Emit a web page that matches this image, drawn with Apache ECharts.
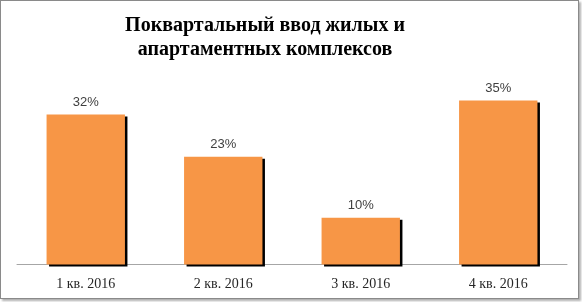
<!DOCTYPE html>
<html><head><meta charset="utf-8">
<script src="https://cdn.jsdelivr.net/npm/echarts@6/dist/echarts.min.js"></script>
<style>
html,body{margin:0;padding:0;background:#fff;}
#frame{position:absolute;left:0;top:0;width:577px;height:297px;border:1px solid #8a8a8a;box-shadow:2px 2px 2px #b0b0b0;background:#fff;}
#c{width:577px;height:297px;}
</style></head>
<body><div id="frame"><div id="c"></div></div>
<script>
var titleText = 'Поквартальный ввод жилых и\nапартаментных комплексов';
var categories = ['1 кв. 2016','2 кв. 2016','3 кв. 2016','4 кв. 2016'];
var values = [32, 23, 10, 35];

var chart = echarts.init(document.getElementById('c'));
chart.setOption({
  animation:false,
  title:{text:titleText,left:259,top:8,textAlign:'center',
    textStyle:{fontFamily:'Liberation Serif',fontWeight:'bold',fontSize:20,lineHeight:24,color:'#000'}},
  grid:{left:16,top:76,width:550,height:187.5},
  xAxis:{type:'category',data:categories,
    axisLine:{lineStyle:{color:'#a6a6a6',width:1}},axisTick:{show:false},
    axisLabel:{fontFamily:'Liberation Serif',fontSize:14,color:'#262626',margin:13}},
  yAxis:{type:'value',min:0,max:40,show:false,splitLine:{show:false}},
  series:[{type:'bar',data:values,barWidth:'57%',
    itemStyle:{color:'#F79646',shadowColor:'#000',shadowOffsetX:2.5,shadowOffsetY:2,shadowBlur:0},
    label:{show:true,position:'top',distance:6,formatter:'{c}%',
      fontFamily:'Liberation Sans',fontSize:13,color:'#404040'}}]
});
</script></body></html>
